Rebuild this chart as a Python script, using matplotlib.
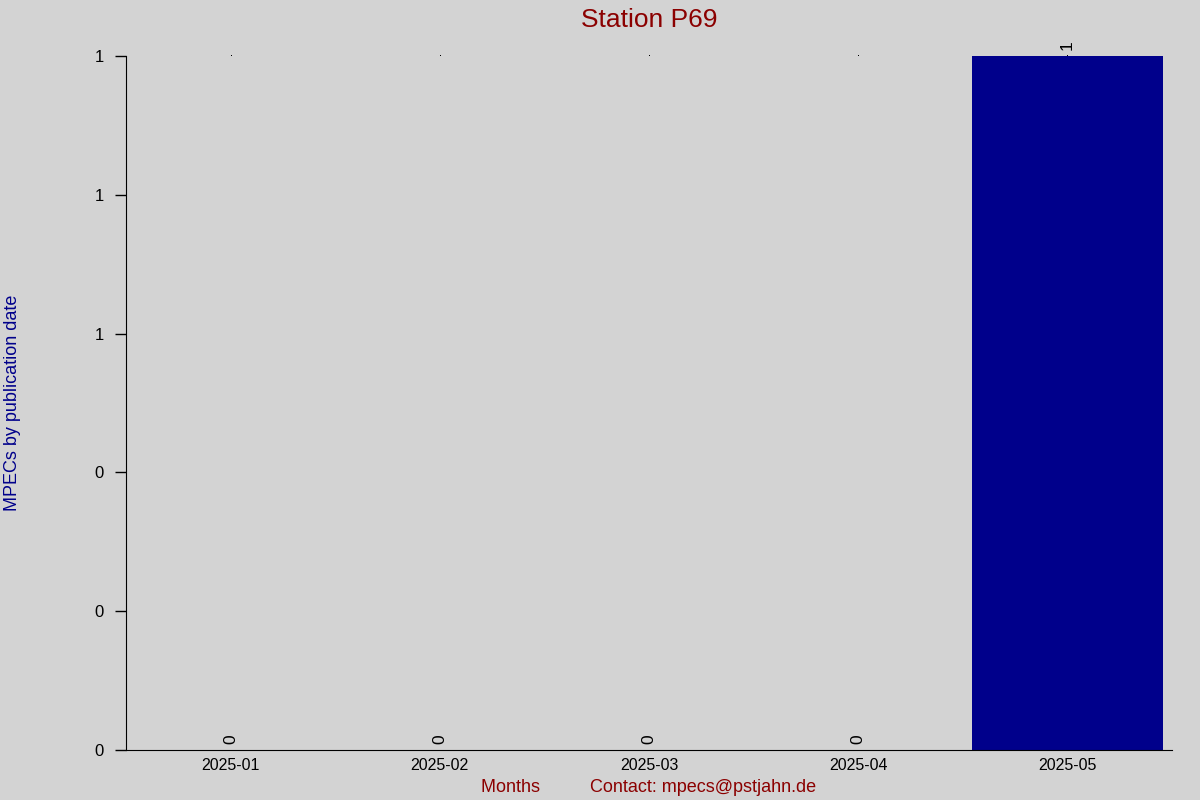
import numpy as np
import matplotlib
matplotlib.use('Agg')
import matplotlib.pyplot as plt

plt.rcParams['font.family'] = ['Liberation Sans', 'DejaVu Sans']

# data
months = ['2025-01', '2025-02', '2025-03', '2025-04', '2025-05']
mpec_counts = [0, 0, 0, 0, 1]
y_ticks = [0.0, 0.2, 0.4, 0.6, 0.8, 1.0]

bg = '#d3d3d3'
fig = plt.figure(figsize=(12, 8), dpi=100, facecolor=bg)
ax = fig.add_axes([0.105, 0.0625, 0.8717, 0.8675], facecolor=bg)

x = np.arange(len(months))
bars = ax.bar(x, mpec_counts, width=0.91, color='#00008b')
ax.bar_label(bars, labels=[str(v) for v in mpec_counts], rotation=90,
             padding=4, fontsize=12.5)
# tiny marks along the top edge
ax.plot(x, [max(mpec_counts)] * len(x), ',', color='black', clip_on=False)

ax.set_xlim(-0.5, len(months) - 0.5)
ax.set_ylim(0, max(mpec_counts))
ax.set_xticks(x)
ax.set_xticklabels(months, fontsize=11.5)
ax.set_yticks(y_ticks)
ax.set_yticklabels(['%.0f' % v for v in y_ticks], fontsize=12)
ax.tick_params(axis='x', length=0, pad=6)
ax.tick_params(axis='y', length=8, width=1, pad=8)

for side in ['top', 'right']:
    ax.spines[side].set_visible(False)

ax.set_title('Station P69', color='#8b0000', fontsize=19, pad=21)
ax.set_xlabel('Months          Contact: mpecs@pstjahn.de',
              color='#8b0000', fontsize=13, labelpad=4)
ax.set_ylabel('MPECs by publication date', color='#00008b', fontsize=13)
ax.yaxis.set_label_coords(-0.1005, 0.5)

fig.savefig('out.png', dpi=100, facecolor=bg)
